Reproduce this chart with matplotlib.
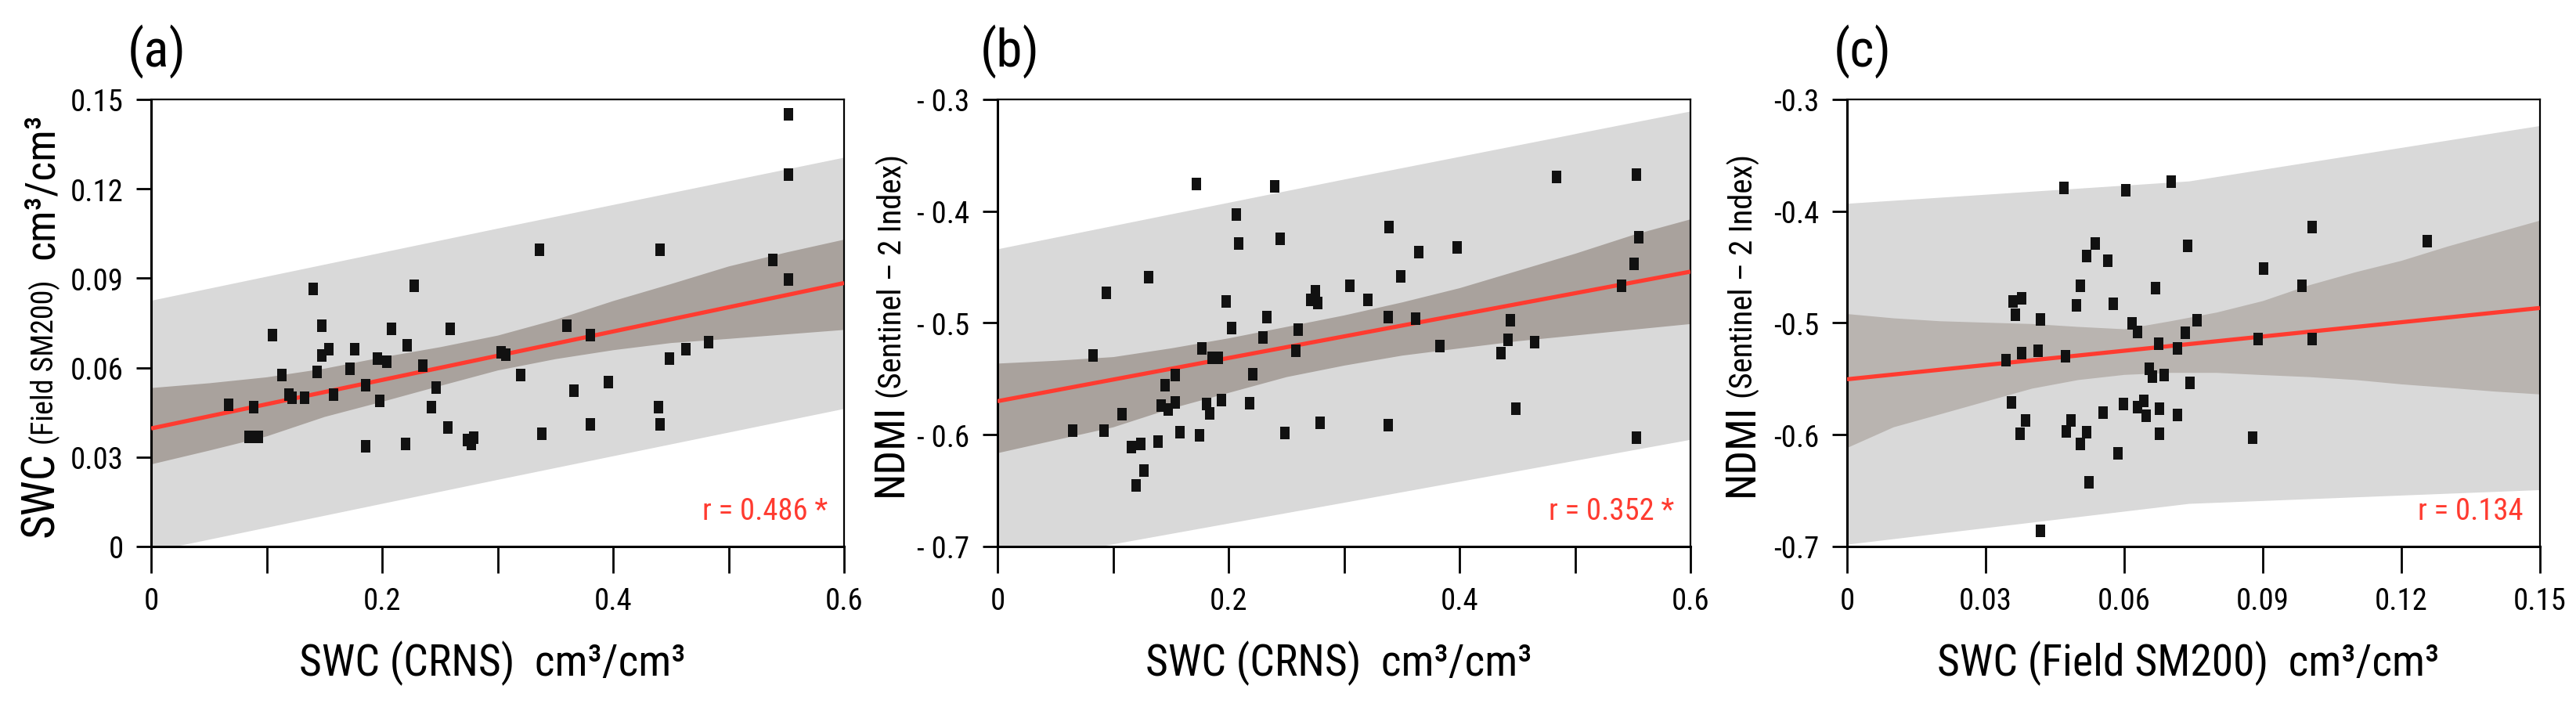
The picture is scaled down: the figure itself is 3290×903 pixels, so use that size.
import os
import matplotlib
matplotlib.use("Agg")
import matplotlib.pyplot as plt
from matplotlib import font_manager
from matplotlib.font_manager import FontProperties

plt.rcParams["font.family"] = ["Liberation Sans", "DejaVu Sans"]

# the figure's lettering is a condensed sans; take the narrowest face we can find
files = {os.path.basename(f.fname): f.fname for f in font_manager.fontManager.ttflist}
narrow_files = ["NotoSans-ExtraCondensed.ttf", "NotoSans-Condensed.ttf",
                "LiberationSansNarrow-Regular.ttf", "RobotoCondensed-Regular.ttf",
                "NotoSans-SemiCondensed.ttf", "DejaVuSansCondensed.ttf"]
NARROW = None
for nf in narrow_files:
    if nf in files:
        NARROW = files[nf]
        break

def narrow_fp(size):
    if NARROW:
        return FontProperties(fname=NARROW, size=size)
    return FontProperties(family=["Liberation Sans", "DejaVu Sans"], size=size)

# ---- panel (a): SWC field vs CRNS ----
a_x = [0.067, 0.085, 0.093, 0.089, 0.105, 0.113, 0.119, 0.122, 0.133, 0.140,
       0.144, 0.148, 0.148, 0.154, 0.158, 0.172, 0.176, 0.186, 0.186, 0.196,
       0.198, 0.204, 0.208, 0.220, 0.222, 0.228, 0.235, 0.243, 0.247, 0.257,
       0.259, 0.274, 0.277, 0.279, 0.303, 0.307, 0.320, 0.336, 0.338, 0.360,
       0.366, 0.380, 0.380, 0.396, 0.439, 0.441, 0.441, 0.449, 0.463, 0.483,
       0.538, 0.552, 0.552, 0.552]
a_y = [0.0476, 0.0368, 0.0368, 0.0467, 0.0708, 0.0576, 0.0510, 0.0500, 0.0498, 0.0863,
       0.0585, 0.0741, 0.0641, 0.0663, 0.0510, 0.0597, 0.0663, 0.0542, 0.0335, 0.0631,
       0.0488, 0.0620, 0.0730, 0.0345, 0.0674, 0.0875, 0.0607, 0.0467, 0.0532, 0.0400,
       0.0730, 0.0357, 0.0345, 0.0366, 0.0652, 0.0643, 0.0576, 0.0995, 0.0379, 0.0741,
       0.0522, 0.0708, 0.0411, 0.0552, 0.0467, 0.0411, 0.0995, 0.0631, 0.0663, 0.0685,
       0.0962, 0.0896, 0.1249, 0.1451]
a_fit_x = [0, 0.6]
a_fit_y = [0.0396, 0.0884]
a_ci_x = [0, 0.05, 0.1, 0.15, 0.2, 0.25, 0.3, 0.35, 0.4, 0.45, 0.5, 0.55, 0.6]
a_ci_hi = [0.0533, 0.0549, 0.0569, 0.0598, 0.0636, 0.0670, 0.0709, 0.0762, 0.0825,
           0.0882, 0.0941, 0.0988, 0.1031]
a_ci_lo = [0.0277, 0.0323, 0.0371, 0.0436, 0.0487, 0.0540, 0.0592, 0.0630, 0.0660,
           0.0684, 0.0698, 0.0713, 0.0728]
a_pi_x = [0, 0.3, 0.6]
a_pi_hi = [0.0826, 0.1068, 0.1306]
a_pi_lo = [-0.0016, 0.0225, 0.0463]

# ---- panel (b): NDMI vs CRNS ----
b_x = [0.065, 0.092, 0.083, 0.094, 0.108, 0.116, 0.124, 0.120, 0.127, 0.131,
       0.139, 0.142, 0.148, 0.145, 0.154, 0.154, 0.158, 0.172, 0.175, 0.177,
       0.181, 0.184, 0.186, 0.191, 0.194, 0.198, 0.203, 0.207, 0.209, 0.218,
       0.221, 0.230, 0.233, 0.240, 0.245, 0.249, 0.258, 0.260, 0.271, 0.275,
       0.277, 0.279, 0.305, 0.321, 0.338, 0.338, 0.339, 0.349, 0.362, 0.365,
       0.383, 0.398, 0.436, 0.442, 0.444, 0.449, 0.465, 0.484, 0.540, 0.551,
       0.553, 0.555, 0.553]
b_y = [-0.5961, -0.5961, -0.5289, -0.4732, -0.5815, -0.6110, -0.6085, -0.6452, -0.6320, -0.4588,
       -0.6058, -0.5737, -0.5776, -0.5558, -0.5467, -0.5712, -0.5976, -0.3758, -0.6002, -0.5230,
       -0.5725, -0.5809, -0.5309, -0.5309, -0.5691, -0.4806, -0.5045, -0.4028, -0.4290, -0.5719,
       -0.5462, -0.5127, -0.4948, -0.3781, -0.4246, -0.5981, -0.5250, -0.5057, -0.4796, -0.4717,
       -0.4822, -0.5896, -0.4666, -0.4794, -0.4950, -0.5917, -0.4141, -0.4584, -0.4960, -0.4366,
       -0.5206, -0.4326, -0.5271, -0.5153, -0.4976, -0.5768, -0.5174, -0.3692, -0.4666, -0.4474,
       -0.3674, -0.4233, -0.6028]
b_fit_x = [0, 0.6]
b_fit_y = [-0.5700, -0.4541]
b_ci_x = [0, 0.05, 0.1, 0.15, 0.2, 0.25, 0.3, 0.35, 0.4, 0.45, 0.5, 0.55, 0.6]
b_ci_hi = [-0.5360, -0.5335, -0.5302, -0.5224, -0.5134, -0.5032, -0.4929, -0.4813, -0.4685,
           -0.4531, -0.4377, -0.4210, -0.4069]
b_ci_lo = [-0.6161, -0.6045, -0.5930, -0.5763, -0.5622, -0.5481, -0.5378, -0.5289, -0.5224,
           -0.5160, -0.5109, -0.5057, -0.5006]
b_pi_x = [0, 0.3, 0.6]
b_pi_hi = [-0.4337, -0.3713, -0.3104]
b_pi_lo = [-0.7163, -0.6605, -0.6042]

# ---- panel (c): NDMI vs field SM200 ----
c_x = [0.0344, 0.0356, 0.0360, 0.0364, 0.0378, 0.0378, 0.0375, 0.0386, 0.0413, 0.0419,
       0.0419, 0.0469, 0.0473, 0.0475, 0.0485, 0.0496, 0.0505, 0.0505, 0.0519, 0.0518,
       0.0537, 0.0524, 0.0555, 0.0565, 0.0576, 0.0586, 0.0599, 0.0604, 0.0617, 0.0628,
       0.0628, 0.0642, 0.0647, 0.0654, 0.0661, 0.0667, 0.0675, 0.0676, 0.0676, 0.0687,
       0.0702, 0.0716, 0.0716, 0.0733, 0.0737, 0.0743, 0.0758, 0.0878, 0.0889, 0.0901,
       0.0984, 0.1006, 0.1006, 0.1256]
c_y = [-0.5335, -0.5708, -0.4809, -0.4930, -0.4783, -0.5271, -0.5988, -0.5872, -0.5250, -0.4968,
       -0.6860, -0.3795, -0.5297, -0.5970, -0.5872, -0.4840, -0.4666, -0.6081, -0.5976, -0.4399,
       -0.4290, -0.6426, -0.5802, -0.4442, -0.4828, -0.6165, -0.5725, -0.3813, -0.5001, -0.5079,
       -0.5751, -0.5695, -0.5829, -0.5412, -0.5481, -0.4686, -0.5186, -0.5768, -0.5994, -0.5467,
       -0.3737, -0.5230, -0.5823, -0.5089, -0.4310, -0.5537, -0.4973, -0.6025, -0.5142, -0.4514,
       -0.4668, -0.4142, -0.5142, -0.4271]
c_fit_x = [0, 0.15]
c_fit_y = [-0.5504, -0.4866]
c_ci_x = [0, 0.01, 0.02, 0.03, 0.04, 0.05, 0.06, 0.07, 0.08, 0.09, 0.10, 0.11, 0.12, 0.13, 0.14, 0.15]
c_ci_hi = [-0.4917, -0.4955, -0.4981, -0.4994, -0.5006, -0.5032, -0.5053, -0.4981, -0.4903,
           -0.4800, -0.4659, -0.4543, -0.4440, -0.4312, -0.4196, -0.4080]
c_ci_lo = [-0.6114, -0.5930, -0.5815, -0.5699, -0.5584, -0.5507, -0.5461, -0.5443, -0.5443,
           -0.5463, -0.5481, -0.5507, -0.5546, -0.5577, -0.5610, -0.5636]
c_pi_x = [0, 0.074, 0.15]
c_pi_hi = [-0.3930, -0.3730, -0.3234]
c_pi_lo = [-0.6980, -0.6615, -0.6492]

r_text = ["r = 0.486 *", "r = 0.352 *", "r = 0.134"]
panel_tags = ["(a)", "(b)", "(c)"]

LIGHT = "#d9d9d9"
DARK = ["#a9a29d", "#a9a29d", "#b9b4b0"]
RED = "#ff3b30"

# tall rectangle marker, like the stretched squares in the figure
rect = [(-0.36, -0.5), (0.36, -0.5), (0.36, 0.5), (-0.36, 0.5), (-0.36, -0.5)]

fig = plt.figure(figsize=(32.9, 9.04), dpi=100)
renderer = fig.canvas.get_renderer()
lefts = [193 / 3290, 1274 / 3290, 2359 / 3290]
AX_H = 571
axes = [fig.add_axes([l, 0.2268, 885 / 3290, AX_H / 904]) for l in lefts]


def fit_size(s, width_px, cap_px, wweight=0.5):
    # size between the one that matches the length and the one that matches the cap height
    t = fig.text(0, 0, s, fontproperties=narrow_fp(20))
    w = t.get_window_extent(renderer).width
    t.remove()
    size_w = 20 * width_px / w
    size_h = cap_px / 0.715 * 0.72
    return size_w ** wweight * size_h ** (1 - wweight)


TICK_FP = narrow_fp(fit_size("0.15", 57, 33))
XLAB_FP = narrow_fp(fit_size("SWC (CRNS)  cm³/cm³", 481, 42, 0.65))
R_FP = narrow_fp(fit_size("r = 0.486 *", 147, 30))
TAG_FP = narrow_fp(fit_size("(a)", 74, 49))

panels = [
    (a_x, a_y, a_fit_x, a_fit_y, a_ci_x, a_ci_lo, a_ci_hi, a_pi_x, a_pi_lo, a_pi_hi),
    (b_x, b_y, b_fit_x, b_fit_y, b_ci_x, b_ci_lo, b_ci_hi, b_pi_x, b_pi_lo, b_pi_hi),
    (c_x, c_y, c_fit_x, c_fit_y, c_ci_x, c_ci_lo, c_ci_hi, c_pi_x, c_pi_lo, c_pi_hi),
]
tag_x = [-0.034, -0.025, -0.019]

for i, (ax, p) in enumerate(zip(axes, panels)):
    x, y, fx, fy, cx, clo, chi, px, plo, phi = p
    ax.fill_between(px, plo, phi, color=LIGHT, lw=0, zorder=1)
    ax.fill_between(cx, clo, chi, color=DARK[i], lw=0, zorder=2)
    ax.plot(fx, fy, color=RED, lw=3.8, zorder=3, solid_capstyle="butt")
    ax.scatter(x, y, marker=rect, s=142, color="#111111", lw=0, zorder=4)

    for side in ["left", "bottom"]:
        ax.spines[side].set_linewidth(2.2)
    for side in ["top", "right"]:
        ax.spines[side].set_linewidth(1.6)
    ax.tick_params(axis="x", length=24.5, width=2, pad=12, direction="out")
    ax.tick_params(axis="y", length=13.5, width=2, pad=12, direction="out")

    ax.text(0.976, 0.079, r_text[i], transform=ax.transAxes, ha="right", va="center",
            color=RED, fontproperties=R_FP)
    ax.text(tag_x[i], 1.108, panel_tags[i], transform=ax.transAxes,
            ha="left", va="center", fontproperties=TAG_FP)

# axis limits and ticks
axes[0].set_xlim(0, 0.6)
axes[0].set_ylim(0, 0.15)
axes[0].set_xticks([0, 0.1, 0.2, 0.3, 0.4, 0.5, 0.6], ["0", "", "0.2", "", "0.4", "", "0.6"])
axes[0].set_yticks([0, 0.03, 0.06, 0.09, 0.12, 0.15],
                   ["0", "0.03", "0.06", "0.09", "0.12", "0.15"])

axes[1].set_xlim(0, 0.6)
axes[1].set_ylim(-0.7, -0.3)
axes[1].set_xticks([0, 0.1, 0.2, 0.3, 0.4, 0.5, 0.6], ["0", "", "0.2", "", "0.4", "", "0.6"])
axes[1].set_yticks([-0.7, -0.6, -0.5, -0.4, -0.3],
                   ["- 0.7", "- 0.6", "- 0.5", "- 0.4", "- 0.3"])

axes[2].set_xlim(0, 0.15)
axes[2].set_ylim(-0.7, -0.3)
axes[2].set_xticks([0, 0.03, 0.06, 0.09, 0.12, 0.15],
                   ["0", "0.03", "0.06", "0.09", "0.12", "0.15"])
axes[2].set_yticks([-0.7, -0.6, -0.5, -0.4, -0.3],
                   ["-0.7", "-0.6", "-0.5", "-0.4", "-0.3"])

for ax in axes:
    for lab in ax.get_xticklabels() + ax.get_yticklabels():
        lab.set_fontproperties(TICK_FP)

# x labels
xlabels = ["SWC (CRNS)  cm³/cm³", "SWC (CRNS)  cm³/cm³", "SWC (Field SM200)  cm³/cm³"]
for ax, t in zip(axes, xlabels):
    ax.text(0.492, -0.26, t, transform=ax.transAxes, ha="center", va="center",
            fontproperties=XLAB_FP)


# y labels: pieces of two sizes on one baseline, chained end to end;
# each piece given as (text, length in px, cap height in px) from the figure
def ylabel_pieces(ax, xbase, center, pieces, gaps):
    texts = [ax.text(xbase, 0, t, transform=ax.transAxes, rotation=90,
                     rotation_mode="anchor", ha="left", va="baseline",
                     fontproperties=narrow_fp(fit_size(t, length, cap)))
             for t, length, cap in pieces]
    lens = [t.get_window_extent(renderer).height / AX_H for t in texts]
    gaps = [g / AX_H for g in gaps]
    pos = center - (sum(lens) + sum(gaps)) / 2
    for k, t in enumerate(texts):
        t.set_y(pos)
        pos += lens[k] + (gaps[k] if k < len(gaps) else 0)


ylabel_pieces(axes[0], -0.141, 0.497,
              [("SWC", 132, 35), ("(Field SM200)", 213, 27), ("cm³/cm³", 195, 37)], [9, 27])
ylabel_pieces(axes[1], -0.138, 0.497,
              [("NDMI", 130, 35), ("(Sentinel – 2 Index)", 322, 28)], [7])
ylabel_pieces(axes[2], -0.136, 0.497,
              [("NDMI", 130, 35), ("(Sentinel – 2 Index)", 322, 28)], [7])

fig.savefig("out.png", dpi=100)
